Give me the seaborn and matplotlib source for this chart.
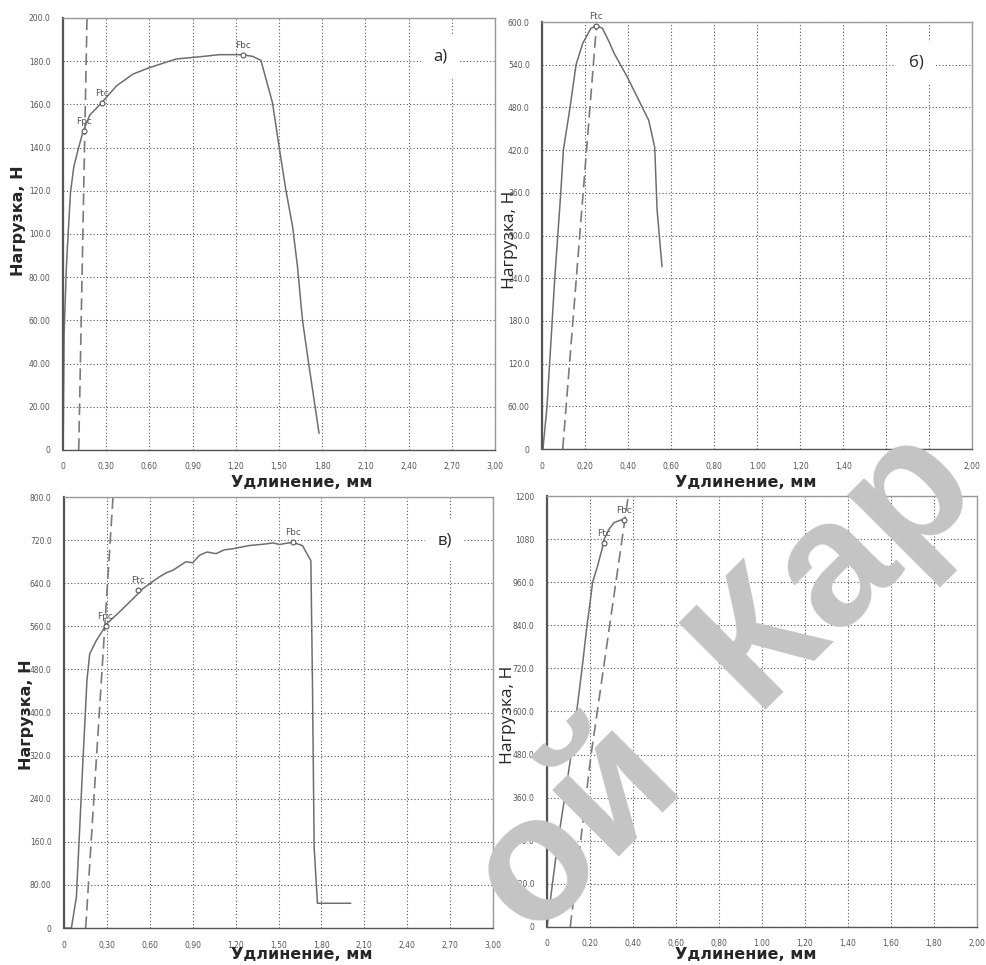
import matplotlib
matplotlib.use("Agg")
import matplotlib.pyplot as plt
import seaborn as sns

sns.set_style("white")
plt.rcParams['font.family'] = ['DejaVu Sans']

# ---- data ----
# a) load, N vs elongation, mm
a_x = [0, 0.007, 0.023, 0.035, 0.051, 0.074, 0.104, 0.139, 0.185, 0.266, 0.37, 0.485, 0.6,
       0.785, 0.946, 1.085, 1.246, 1.316, 1.374, 1.455, 1.50, 1.547, 1.594, 1.628, 1.663,
       1.709, 1.744, 1.778]
a_y = [0, 54, 85, 100, 119, 131, 139, 147.5, 155, 160.6, 168.5, 174, 177, 181, 182, 183, 183,
       182.2, 180.4, 160.6, 140.5, 120.5, 103.5, 85, 60, 38.6, 23, 7.7]
a_dash_x = [0.1085, 0.166]
a_dash_y = [0, 200]
a_marks = [("Fpc", 0.146, 147.5), ("Ftc", 0.27, 160.6), ("Fbc", 1.25, 183)]

# b)
b_x = [0.003, 0.022, 0.034, 0.046, 0.058, 0.072, 0.086, 0.098, 0.129, 0.157, 0.188, 0.226,
       0.252, 0.28, 0.311, 0.334, 0.395, 0.449, 0.495, 0.523, 0.534, 0.557]
b_y = [0, 60, 120, 180, 240, 300, 360, 420, 480, 540, 570, 591, 595, 591, 572, 556, 523, 490,
       462, 424, 336, 256]
b_dash_x = [0.095, 0.252]
b_dash_y = [0, 595]
b_marks = [("Ftc", 0.252, 595)]

# c)
c_x = [0, 0.051, 0.086, 0.133, 0.16, 0.179, 0.226, 0.272, 0.295, 0.388, 0.481, 0.551, 0.667,
       0.72, 0.76, 0.853, 0.9, 0.947, 1.0, 1.063, 1.12, 1.179, 1.295, 1.412, 1.46, 1.505,
       1.55, 1.598, 1.667, 1.726, 1.737, 1.749, 1.772, 2.005]
c_y = [0, 0, 57.5, 317, 460, 509, 534, 553, 564, 587, 611, 630, 652, 660, 664, 680, 678, 692,
       698, 695, 702, 704, 710, 713, 715, 712, 714, 716, 710, 682, 460, 150, 46, 46]
c_dash_x = [0.151, 0.342]
c_dash_y = [0, 800]
c_marks = [("Fpc", 0.29, 560), ("Ftc", 0.52, 628), ("Fbc", 1.6, 717)]

# d)
d_x = [0, 0.025, 0.051, 0.082, 0.112, 0.138, 0.163, 0.186, 0.2, 0.212, 0.235, 0.258, 0.266,
       0.289, 0.312, 0.343, 0.363]
d_y = [0, 120, 240, 360, 480, 600, 720, 840, 902, 960, 1005, 1057, 1080, 1108, 1126, 1133, 1133]
d_dash_x = [0.108, 0.205, 0.378]
d_dash_y = [0, 480, 1200]
d_marks = [("Ftc", 0.266, 1070), ("Fbc", 0.36, 1133)]

x3_ticks = [0, 0.3, 0.6, 0.9, 1.2, 1.5, 1.8, 2.1, 2.4, 2.7, 3.0]
x3_labels = ["0", "0,30", "0,60", "0,90", "1,20", "1,50", "1,80", "2,10", "2,40", "2,70", "3,00"]
x2_ticks = [0, 0.2, 0.4, 0.6, 0.8, 1.0, 1.2, 1.4, 1.6, 1.8, 2.0]
x2_labels = ["0", "0,20", "0,40", "0,60", "0,80", "1.00", "1,20", "1,40", "1,60", "1,80", "2,00"]

a_yt = [0, 20, 40, 60, 80, 100, 120, 140, 160, 180, 200]
a_yl = ["0", "20.00", "40.00", "60.00", "80.00", "100.0", "120.0", "140.0", "160.0", "180.0", "200.0"]
b_yt = [0, 60, 120, 180, 240, 300, 360, 420, 480, 540, 600]
b_yl = ["0", "60.00", "120.0", "180.0", "240.0", "300.0", "360.0", "420.0", "480.0", "540.0", "600.0"]
c_yt = [0, 80, 160, 240, 320, 400, 480, 560, 640, 720, 800]
c_yl = ["0", "80.00", "160.0", "240.0", "320.0", "400.0", "480.0", "560.0", "640.0", "720.0", "800.0"]
d_yt = [0, 120, 240, 360, 480, 600, 720, 840, 960, 1080, 1200]
d_yl = ["0", "120.0", "240.0", "360.0", "480.0", "600.0", "720.0", "840.0", "960.0", "1080", "1200"]

panels = [
    # rect, x, y, dash x, dash y, marks, xticks, xlabels, yticks, ylabels, letter, letter pos
    ([0.064, 0.5337, 0.438, 0.4477], a_x, a_y, a_dash_x, a_dash_y, a_marks,
     x3_ticks, x3_labels, a_yt, a_yl, "а)", (2.62, 182)),
    ([0.550, 0.5347, 0.436, 0.4425], b_x, b_y, b_dash_x, b_dash_y, b_marks,
     x2_ticks, x2_labels, b_yt, b_yl, "б)", (1.74, 543)),
    ([0.065, 0.0383, 0.435, 0.4466], c_x, c_y, c_dash_x, c_dash_y, c_marks,
     x3_ticks, x3_labels, c_yt, c_yl, "в)", (2.66, 720)),
    ([0.5548, 0.0394, 0.436, 0.4466], d_x, d_y, d_dash_x, d_dash_y, d_marks,
     x2_ticks, x2_labels, d_yt, d_yl, "г)", (1.70, 1072)),
]

fig = plt.figure(figsize=(9.86, 9.65), dpi=100)
line_col = "#6e6e6e"

for (rect, xs, ys, dx, dy, marks, xt, xl, yt, yl, letter, lpos) in panels:
    ax = fig.add_axes(rect)
    sns.lineplot(x=xs, y=ys, ax=ax, color=line_col, linewidth=1.1, sort=False, estimator=None)
    sns.lineplot(x=dx, y=dy, ax=ax, color="#7a7a7a", linewidth=1.2, sort=False, estimator=None,
                 dashes=False).lines[-1].set_dashes([7, 3.5])
    for name, mx, my in marks:
        ax.plot(mx, my, marker="o", ms=3.5, mfc="white", mec="#555555", mew=0.8)
        ax.annotate(name, (mx, my), xytext=(0, 5), textcoords="offset points", ha="center",
                    fontsize=6.5, color="#555555")
    ax.set_xlim(xt[0], xt[-1])
    ax.set_ylim(yt[0], yt[-1])
    ax.set_xticks(xt, xl)
    ax.set_yticks(yt, yl)
    ax.tick_params(axis="both", labelsize=5.5, labelcolor="#555555", length=3, width=0.8,
                   color="#555555", pad=6)
    ax.grid(True, color="#555555", linestyle=(0, (1, 2)), linewidth=0.8)
    for s in ax.spines.values():
        s.set_color("#999999")
        s.set_linewidth(1.0)
    ax.spines["left"].set_color("#555555")
    ax.spines["left"].set_linewidth(1.6)
    ax.spines["bottom"].set_color("#555555")
    ax.text(lpos[0], lpos[1], letter, fontsize=12, family="Open Sans", ha="center", va="center",
            bbox=dict(facecolor="white", edgecolor="none", pad=9), zorder=5)

# axis titles
fig.text(0.019, 0.771, "Нагрузка, Н", rotation=90, fontsize=11.5, fontweight="bold",
         ha="center", va="center")
fig.text(0.517, 0.751, "Нагрузка, Н", rotation=90, fontsize=12.5, family="Open Sans",
         ha="center", va="center")
fig.text(0.027, 0.259, "Нагрузка, Н", rotation=90, fontsize=11.5, fontweight="bold",
         ha="center", va="center")
fig.text(0.515, 0.259, "Нагрузка, Н", rotation=90, fontsize=12.5, family="Open Sans",
         ha="center", va="center")
for xc, yc in [(0.306, 0.5005), (0.756, 0.4995), (0.306, 0.0104), (0.756, 0.0104)]:
    fig.text(xc, yc, "Удлинение, мм", fontsize=11.5, fontweight="bold", ha="center", va="center")

# watermark
fig.text(0.735, 0.292, "ой  Кар", rotation=45, fontsize=128, fontweight="bold",
         family="Liberation Sans", color="#c4c4c4", ha="center", va="center", zorder=100)

fig.savefig("out.png", dpi=100)
